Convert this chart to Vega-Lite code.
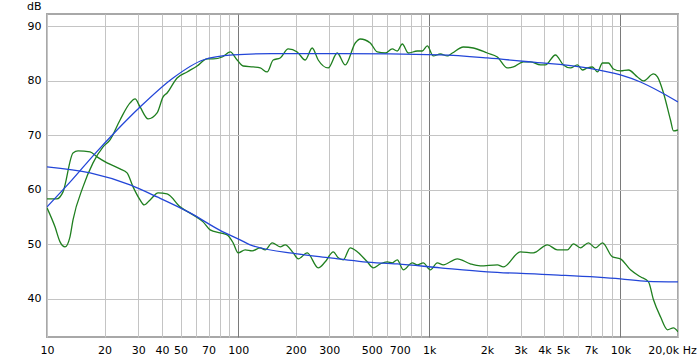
{
  "$schema": "https://vega.github.io/schema/vega-lite/v6.json",
  "width": 631,
  "height": 323,
  "autosize": {"type": "none"},
  "padding": {"left": 47, "top": 14, "right": 22, "bottom": 22},
  "background": "white",
  "config": {
    "view": {"stroke": "#a8a8a8", "strokeWidth": 2},
    "font": "DejaVu Sans"
  },
  "data": {
    "values": [
      {"s":"A","f":10,"db":56.67},{"s":"A","f":11.01,"db":53.19},{"s":"A","f":11.7,"db":50.44},{"s":"A","f":12.42,"db":49.52},{"s":"A","f":13.19,"db":51.36},{"s":"A","f":13.68,"db":54.47},{"s":"A","f":15.43,"db":60.51},{"s":"A","f":17.41,"db":64.91},{"s":"A","f":19.65,"db":67.84},{"s":"A","f":21.37,"db":69.12},{"s":"A","f":24.11,"db":72.78},{"s":"A","f":27.2,"db":75.9},{"s":"A","f":28.89,"db":76.63},{"s":"A","f":30.68,"db":75.16},{"s":"A","f":33.8,"db":72.97},{"s":"A","f":37.66,"db":74.07},{"s":"A","f":40.49,"db":77.0},{"s":"A","f":42.49,"db":77.73},{"s":"A","f":47.92,"db":80.48},{"s":"A","f":54.08,"db":81.58},{"s":"A","f":61.01,"db":82.67},{"s":"A","f":68.81,"db":83.96},{"s":"A","f":73.98,"db":83.96},{"s":"A","f":82.5,"db":84.32},{"s":"A","f":90.8,"db":85.24},{"s":"A","f":98.8,"db":83.77},{"s":"A","f":106.2,"db":82.67},{"s":"A","f":119.8,"db":82.49},{"s":"A","f":130.4,"db":82.31},{"s":"A","f":141.8,"db":81.58},{"s":"A","f":152.5,"db":83.77},{"s":"A","f":165.9,"db":84.14},{"s":"A","f":182.7,"db":85.79},{"s":"A","f":203.7,"db":85.24},{"s":"A","f":224.3,"db":83.77},{"s":"A","f":244.0,"db":85.97},{"s":"A","f":262.3,"db":83.77},{"s":"A","f":296.0,"db":82.31},{"s":"A","f":329.9,"db":85.05},{"s":"A","f":363.3,"db":82.86},{"s":"A","f":409.9,"db":86.89},{"s":"A","f":435.3,"db":87.62},{"s":"A","f":491.1,"db":86.89},{"s":"A","f":534.3,"db":85.24},{"s":"A","f":588.4,"db":85.05},{"s":"A","f":640.2,"db":85.79},{"s":"A","f":679.9,"db":85.42},{"s":"A","f":722.2,"db":86.7},{"s":"A","f":776.4,"db":85.05},{"s":"A","f":865.4,"db":85.42},{"s":"A","f":919.2,"db":85.42},{"s":"A","f":976.1,"db":86.34},{"s":"A","f":1049,"db":84.51},{"s":"A","f":1142,"db":84.87},{"s":"A","f":1243,"db":84.51},{"s":"A","f":1320,"db":85.05},{"s":"A","f":1507,"db":86.15},{"s":"A","f":1700,"db":85.97},{"s":"A","f":2012,"db":85.05},{"s":"A","f":2270,"db":84.32},{"s":"A","f":2561,"db":82.31},{"s":"A","f":2753,"db":82.49},{"s":"A","f":3105,"db":83.41},{"s":"A","f":3380,"db":83.41},{"s":"A","f":3813,"db":82.86},{"s":"A","f":4049,"db":82.86},{"s":"A","f":4568,"db":84.69},{"s":"A","f":5030,"db":82.86},{"s":"A","f":5473,"db":82.31},{"s":"A","f":5955,"db":82.86},{"s":"A","f":6324,"db":81.94},{"s":"A","f":6718,"db":82.31},{"s":"A","f":7136,"db":82.49},{"s":"A","f":7580,"db":81.58},{"s":"A","f":8052,"db":83.22},{"s":"A","f":8654,"db":83.22},{"s":"A","f":9192,"db":82.12},{"s":"A","f":10000,"db":81.76},{"s":"A","f":11013,"db":81.94},{"s":"A","f":12275,"db":80.66},{"s":"A","f":13195,"db":79.93},{"s":"A","f":14888,"db":81.21},{"s":"A","f":15622,"db":80.66},{"s":"A","f":16792,"db":77.73},{"s":"A","f":18272,"db":72.78},{"s":"A","f":18944,"db":70.77},{"s":"A","f":20000,"db":70.95},
      {"s":"B","f":10,"db":58.32},{"s":"B","f":11.24,"db":58.32},{"s":"B","f":12.13,"db":59.6},{"s":"B","f":13.68,"db":66.74},{"s":"B","f":14.53,"db":67.11},{"s":"B","f":16.8,"db":66.92},{"s":"B","f":18.27,"db":66.01},{"s":"B","f":20.62,"db":64.91},{"s":"B","f":24.11,"db":63.81},{"s":"B","f":26.23,"db":63.08},{"s":"B","f":28.2,"db":60.51},{"s":"B","f":30.68,"db":58.13},{"s":"B","f":32.2,"db":57.22},{"s":"B","f":34.62,"db":58.13},{"s":"B","f":38.12,"db":59.41},{"s":"B","f":42.49,"db":59.23},{"s":"B","f":49.69,"db":56.85},{"s":"B","f":58.14,"db":55.38},{"s":"B","f":65.57,"db":54.1},{"s":"B","f":71.35,"db":52.64},{"s":"B","f":80.47,"db":52.09},{"s":"B","f":87.6,"db":51.72},{"s":"B","f":94.1,"db":50.26},{"s":"B","f":100,"db":48.42},{"s":"B","f":108.8,"db":48.97},{"s":"B","f":118.4,"db":48.79},{"s":"B","f":130.4,"db":49.34},{"s":"B","f":138.5,"db":48.97},{"s":"B","f":150.7,"db":50.26},{"s":"B","f":165.9,"db":49.52},{"s":"B","f":176.3,"db":49.89},{"s":"B","f":194.1,"db":48.42},{"s":"B","f":206.2,"db":47.33},{"s":"B","f":229.8,"db":48.42},{"s":"B","f":262.3,"db":45.68},{"s":"B","f":285.5,"db":46.78},{"s":"B","f":314.4,"db":48.61},{"s":"B","f":333.9,"db":47.51},{"s":"B","f":354.6,"db":47.14},{"s":"B","f":385.9,"db":49.34},{"s":"B","f":419.8,"db":48.61},{"s":"B","f":473.6,"db":46.78},{"s":"B","f":509.2,"db":45.68},{"s":"B","f":554.1,"db":46.41},{"s":"B","f":602.8,"db":46.78},{"s":"B","f":640.2,"db":46.59},{"s":"B","f":679.9,"db":47.14},{"s":"B","f":731.0,"db":45.31},{"s":"B","f":814.7,"db":46.59},{"s":"B","f":865.4,"db":46.23},{"s":"B","f":930.3,"db":46.59},{"s":"B","f":1012,"db":45.31},{"s":"B","f":1101,"db":46.59},{"s":"B","f":1184,"db":46.23},{"s":"B","f":1402,"db":47.33},{"s":"B","f":1639,"db":46.41},{"s":"B","f":1849,"db":46.04},{"s":"B","f":2270,"db":46.23},{"s":"B","f":2440,"db":45.86},{"s":"B","f":2995,"db":48.61},{"s":"B","f":3504,"db":48.42},{"s":"B","f":4148,"db":49.89},{"s":"B","f":4679,"db":48.97},{"s":"B","f":5278,"db":48.97},{"s":"B","f":5675,"db":50.07},{"s":"B","f":6175,"db":49.34},{"s":"B","f":6800,"db":50.26},{"s":"B","f":7399,"db":49.34},{"s":"B","f":8052,"db":50.26},{"s":"B","f":9081,"db":47.69},{"s":"B","f":10000,"db":47.33},{"s":"B","f":11281,"db":45.31},{"s":"B","f":12727,"db":44.03},{"s":"B","f":14017,"db":43.11},{"s":"B","f":14888,"db":39.82},{"s":"B","f":16196,"db":36.7},{"s":"B","f":17624,"db":34.32},{"s":"B","f":18944,"db":34.69},{"s":"B","f":20000,"db":33.96},
      {"s":"C","f":10,"db":56.85},{"s":"C","f":13.52,"db":61.79},{"s":"C","f":17.5,"db":66.3},{"s":"C","f":23.25,"db":70.95},{"s":"C","f":30.68,"db":75.16},{"s":"C","f":45.67,"db":80.48},{"s":"C","f":65.57,"db":83.77},{"s":"C","f":94.1,"db":84.69},{"s":"C","f":150,"db":84.95},{"s":"C","f":340,"db":84.95},{"s":"C","f":1142,"db":84.69},{"s":"C","f":2012,"db":84.14},{"s":"C","f":3380,"db":83.41},{"s":"C","f":6718,"db":82.31},{"s":"C","f":10000,"db":81.03},{"s":"C","f":12727,"db":79.74},{"s":"C","f":16196,"db":77.91},{"s":"C","f":20000,"db":76.08},
      {"s":"D","f":10,"db":64.18},{"s":"D","f":16.8,"db":63.08},{"s":"D","f":27.2,"db":60.88},{"s":"D","f":37.66,"db":58.68},{"s":"D","f":56.07,"db":55.75},{"s":"D","f":80,"db":52.6},{"s":"D","f":102.4,"db":50.81},{"s":"D","f":115.6,"db":49.89},{"s":"D","f":203.7,"db":48.24},{"s":"D","f":303.2,"db":47.51},{"s":"D","f":451.3,"db":46.78},{"s":"D","f":679.9,"db":46.4},{"s":"D","f":1142,"db":45.68},{"s":"D","f":2012,"db":44.95},{"s":"D","f":4459,"db":44.4},{"s":"D","f":10000,"db":43.66},{"s":"D","f":13849,"db":43.2},{"s":"D","f":20000,"db":43.11}
    ]
  },
  "mark": {"type": "line", "interpolate": "monotone", "strokeWidth": 1.3, "clip": true},
  "encoding": {
    "x": {
      "field": "f", "type": "quantitative",
      "scale": {"type": "log", "domain": [10, 20000], "nice": false},
      "axis": {
        "title": null,
        "values": [10,20,30,40,50,60,70,80,90,100,200,300,400,500,600,700,800,900,1000,2000,3000,4000,5000,6000,7000,8000,9000,10000,20000],
        "labelExpr": "datum.value == 20000 ? '20,0k Hz' : (indexof([10,20,30,40,50,70,100,200,300,500,700], datum.value) >= 0 ? '' + datum.value : (indexof([1000,2000,3000,4000,5000,7000,10000], datum.value) >= 0 ? (datum.value/1000) + 'k' : ''))",
        "labelOffset": {"condition": {"test": "datum.value == 20000", "value": -6}, "value": 0},
        "labelFont": "DejaVu Sans", "labelFontSize": 11, "labelColor": "#000000",
        "labelPadding": 7, "labelOverlap": false, "labelFlush": false, "labelBound": false,
        "ticks": false, "domain": false,
        "grid": true,
        "gridColor": {"condition": {"test": "datum.value == 100 || datum.value == 1000 || datum.value == 10000", "value": "#7a7a7a"}, "value": "#c4c4c4"},
        "gridWidth": 1
      }
    },
    "y": {
      "field": "db", "type": "quantitative",
      "scale": {"domain": [33, 92.2], "nice": false, "zero": false},
      "axis": {
        "title": "dB", "titleAngle": 0, "titleAlign": "right", "titleBaseline": "alphabetic",
        "titleX": -6, "titleY": -5, "titleFont": "DejaVu Sans", "titleFontSize": 11, "titleFontWeight": "normal", "titleColor": "#000000",
        "values": [40,50,60,70,80,90],
        "labelFont": "DejaVu Sans", "labelFontSize": 11, "labelColor": "#000000", "labelPadding": 6,
        "ticks": false, "domain": false, "grid": true, "gridColor": "#c4c4c4"
      }
    },
    "color": {
      "field": "s", "type": "nominal", "legend": null,
      "scale": {"domain": ["A","B","C","D"], "range": ["#1f7f1f","#1f7f1f","#2346d8","#2346d8"]}
    }
  }
}
